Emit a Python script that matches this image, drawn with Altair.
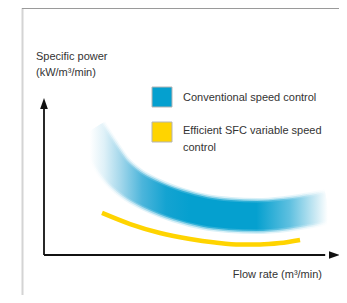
import altair as alt
import pandas as pd

# --- data (conceptual chart, arbitrary 0-100 units) ---
flow_conv = [15.5, 19.6, 24.0, 29.7, 36.5, 45.3, 54.4, 62.8, 72.0, 81.4, 88.2, 95.9]
power_conv = [79.0, 66.9, 54.8, 45.2, 38.2, 31.8, 27.4, 25.5, 24.8, 26.1, 28.0, 30.6]

flow_sfc = [19.6, 29.1, 39.2, 49.3, 57.8, 66.2, 73.0, 79.7, 86.5]
power_sfc = [26.8, 19.7, 14.0, 10.2, 8.0, 6.7, 6.7, 7.6, 9.6]

axis_max = 100
axis_line_end = 95

y_title = ["Specific power", "(kW/m³/min)"]
x_title = "Flow rate (m³/min)"
legend_labels = ["Conventional speed control", "Efficient SFC variable speed", "control"]

BLUE = "#05a0cf"
YELLOW = "#ffd400"
FONT = "Liberation Sans"
TXT = "#333333"

conv = pd.DataFrame({"flow": flow_conv, "power": power_conv})
sfc = pd.DataFrame({"flow": flow_sfc, "power": power_sfc})

xs = alt.Scale(domain=[0, axis_max], range=[36, 332])
ys = alt.Scale(domain=[0, axis_max], range=[247, 90])
X = alt.X("flow:Q", scale=xs, axis=None)
Y = alt.Y("power:Q", scale=ys, axis=None)

grad = alt.LinearGradient(
    gradient="linear",
    stops=[
        alt.GradientStop(color="#ffffff", offset=0.0),
        alt.GradientStop(color="#dff1f8", offset=0.06),
        alt.GradientStop(color="#a3d7eb", offset=0.13),
        alt.GradientStop(color="#4cb5db", offset=0.22),
        alt.GradientStop(color="#14a3d1", offset=0.32),
        alt.GradientStop(color=BLUE, offset=0.42),
        alt.GradientStop(color=BLUE, offset=0.70),
        alt.GradientStop(color="#5fc0e0", offset=0.84),
        alt.GradientStop(color="#cdeaf4", offset=0.95),
        alt.GradientStop(color="#ffffff", offset=1.0),
    ],
    x1=0, x2=1, y1=0, y2=0,
)

band_layers = []
for w, op in [(36, 0.15), (33, 0.35), (30, 0.7), (27, 1.0)]:
    band_layers.append(
        alt.Chart(conv).mark_line(
            stroke=grad, strokeWidth=w, opacity=op, interpolate="monotone", strokeCap="butt"
        ).encode(x=X, y=Y)
    )

sfc_line = alt.Chart(sfc).mark_line(
    color=YELLOW, strokeWidth=4.5, interpolate="monotone", strokeCap="butt"
).encode(x=X, y=Y)

ax_df = pd.DataFrame({"flow": [0], "power": [0], "xend": [axis_line_end], "yend": [axis_line_end]})
y_axis = alt.Chart(ax_df).mark_rule(color="#111111", strokeWidth=1.8).encode(
    x=X, y=Y, y2="yend:Q")
x_axis = alt.Chart(ax_df).mark_rule(color="#111111", strokeWidth=1.8).encode(
    x=X, x2="xend:Q", y=Y)

y_arrow = alt.Chart(pd.DataFrame({"flow": [0], "power": [axis_max]})).mark_point(
    shape="M0,0L-0.7,2L0.7,2Z", size=121, filled=True, color="#111111", opacity=1
).encode(x=X, y=Y)
x_arrow = alt.Chart(pd.DataFrame({"flow": [axis_max], "power": [0]})).mark_point(
    shape="M0,0L-2,-0.7L-2,0.7Z", size=121, filled=True, color="#111111", opacity=1
).encode(x=X, y=Y)

one = alt.Data(values=[{"k": 0}])


def label(text, x, y, align="left"):
    return alt.Chart(one).mark_text(
        align=align, baseline="middle", font=FONT, fontSize=11, color=TXT
    ).encode(x=alt.value(x), y=alt.value(y), text=alt.value(text))


def swatch(color, y):
    return alt.Chart(one).mark_rect(
        color=color, stroke="#b5b5b5", strokeWidth=1
    ).encode(x=alt.value(144), x2=alt.value(164), y=alt.value(y), y2=alt.value(y + 20))


border_v = alt.Chart(one).mark_rule(color="#d4d4d4", strokeWidth=2).encode(
    x=alt.value(14.5), y=alt.value(0), y2=alt.value(287))
border_h = alt.Chart(one).mark_rule(color="#9a9a9a", strokeWidth=1).encode(
    x=alt.value(14), x2=alt.value(331), y=alt.value(0.5))

chart = alt.layer(
    border_v, border_h,
    *band_layers,
    sfc_line,
    y_axis, x_axis, y_arrow, x_arrow,
    label(y_title[0], 28, 49),
    label(y_title[1], 28, 65),
    swatch(BLUE, 79),
    swatch(YELLOW, 114),
    label(legend_labels[0], 175, 90),
    label(legend_labels[1], 175, 123),
    label(legend_labels[2], 175, 139.5),
    label(x_title, 314, 267, align="right"),
).properties(
    width=331, height=287,
    autosize=alt.AutoSizeParams(type="none"),
    padding=0,
).configure_view(strokeWidth=0)

chart.save("out.html", embed_options={"renderer": "svg", "actions": False})
